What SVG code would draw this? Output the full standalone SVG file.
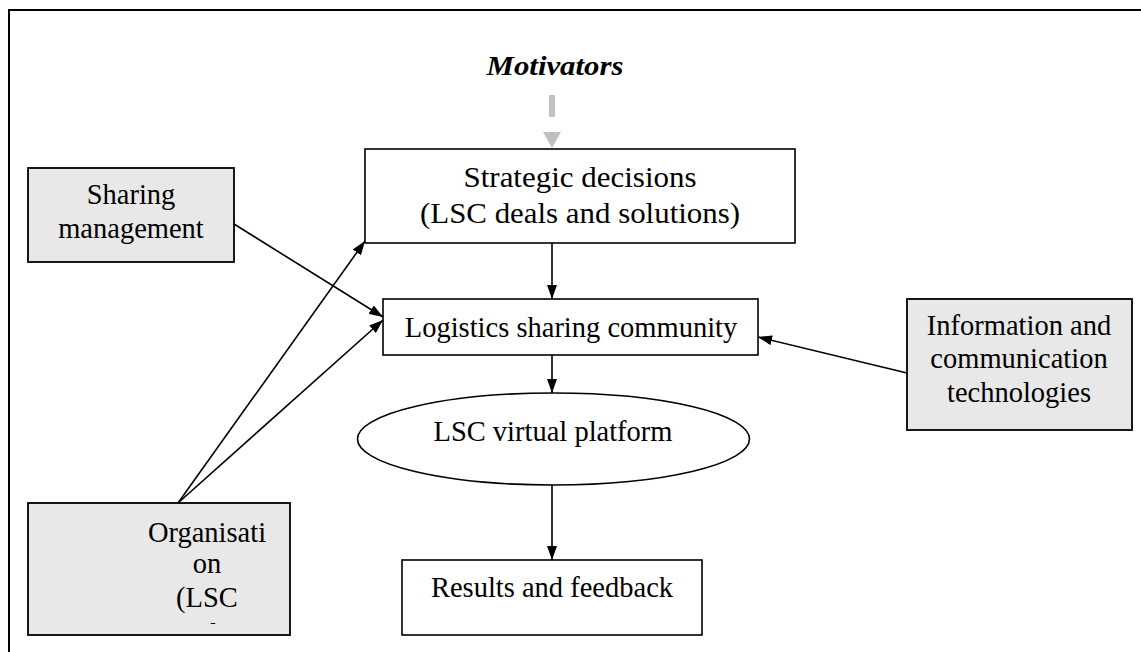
<svg xmlns="http://www.w3.org/2000/svg" width="1141" height="652" viewBox="0 0 1141 652">
<style>
.t{font-family:"Liberation Serif","Times New Roman",serif;font-size:28.5px;fill:#000;text-anchor:middle}
.mot{font-family:"Liberation Serif","Times New Roman",serif;font-size:28px;font-weight:bold;font-style:italic;fill:#000;text-anchor:middle}
.box{fill:#fff;stroke:#000;stroke-width:1.6}
.gbox{fill:#e8e8e8;stroke:#000;stroke-width:1.8}
.c{stroke:#000;stroke-width:1.6;fill:none;marker-end:url(#ah)}
</style>
<defs>
<marker id="ah" viewBox="0 0 14 10" refX="14" refY="5" markerWidth="14" markerHeight="10" markerUnits="userSpaceOnUse" orient="auto">
<path d="M0,0 L14,5 L0,10 z" fill="#000"/>
</marker>
<clipPath id="orgclip"><rect x="28" y="503" width="262" height="121"/></clipPath>
</defs>
<rect width="1141" height="652" fill="#fff"/>
<path d="M9,652 V10 H1141" fill="none" stroke="#000" stroke-width="2"/>
<g id="motivators">
<text class="mot" x="555" y="75" textLength="137" lengthAdjust="spacingAndGlyphs">Motivators</text>
</g>
<g id="strategic">
<rect class="box" x="365" y="149" width="430" height="94"/>
<text class="t" x="580" y="187" textLength="233" lengthAdjust="spacingAndGlyphs">Strategic decisions</text>
<text class="t" x="580" y="223" textLength="320" lengthAdjust="spacingAndGlyphs">(LSC deals and solutions)</text>
</g>
<g id="sharing">
<rect class="gbox" x="28" y="168" width="206" height="94"/>
<text class="t" x="131" y="204">Sharing</text>
<text class="t" x="131" y="238">management</text>
</g>
<g id="logistics">
<rect class="box" x="383" y="299" width="375" height="56"/>
<text class="t" x="571" y="337">Logistics sharing community</text>
</g>
<g id="ict">
<rect class="gbox" x="907" y="299" width="225" height="131"/>
<text class="t" x="1019" y="335">Information and</text>
<text class="t" x="1019" y="368">communication</text>
<text class="t" x="1019" y="402">technologies</text>
</g>
<g id="platform">
<ellipse class="box" cx="553.5" cy="439" rx="196" ry="46"/>
<text class="t" x="553" y="441">LSC virtual platform</text>
</g>
<g id="organisation">
<rect class="gbox" x="28" y="503" width="262" height="132"/>
<text class="t" x="207" y="542">Organisati</text>
<text class="t" x="207" y="573">on</text>
<text class="t" x="207" y="607">(LSC</text>
<text class="t" x="214" y="643" clip-path="url(#orgclip)">l</text>
</g>
<g id="results">
<rect class="box" x="402" y="560" width="300" height="75"/>
<text class="t" x="552" y="597">Results and feedback</text>
</g>
<g id="connectors">
<line x1="552" y1="95" x2="552" y2="117" stroke="#c0c0c0" stroke-width="6"/>
<polygon points="543,132 561,132 552,148" fill="#c0c0c0"/>
<line class="c" x1="552" y1="243" x2="552" y2="299"/>
<line class="c" x1="552" y1="355" x2="552" y2="393"/>
<line class="c" x1="552" y1="485" x2="552" y2="560"/>
<line class="c" x1="234" y1="224" x2="383" y2="317"/>
<line class="c" x1="178" y1="503" x2="365" y2="241"/>
<line class="c" x1="178" y1="503" x2="383" y2="320"/>
<line class="c" x1="907" y1="373" x2="758" y2="337"/>
</g>
</svg>
